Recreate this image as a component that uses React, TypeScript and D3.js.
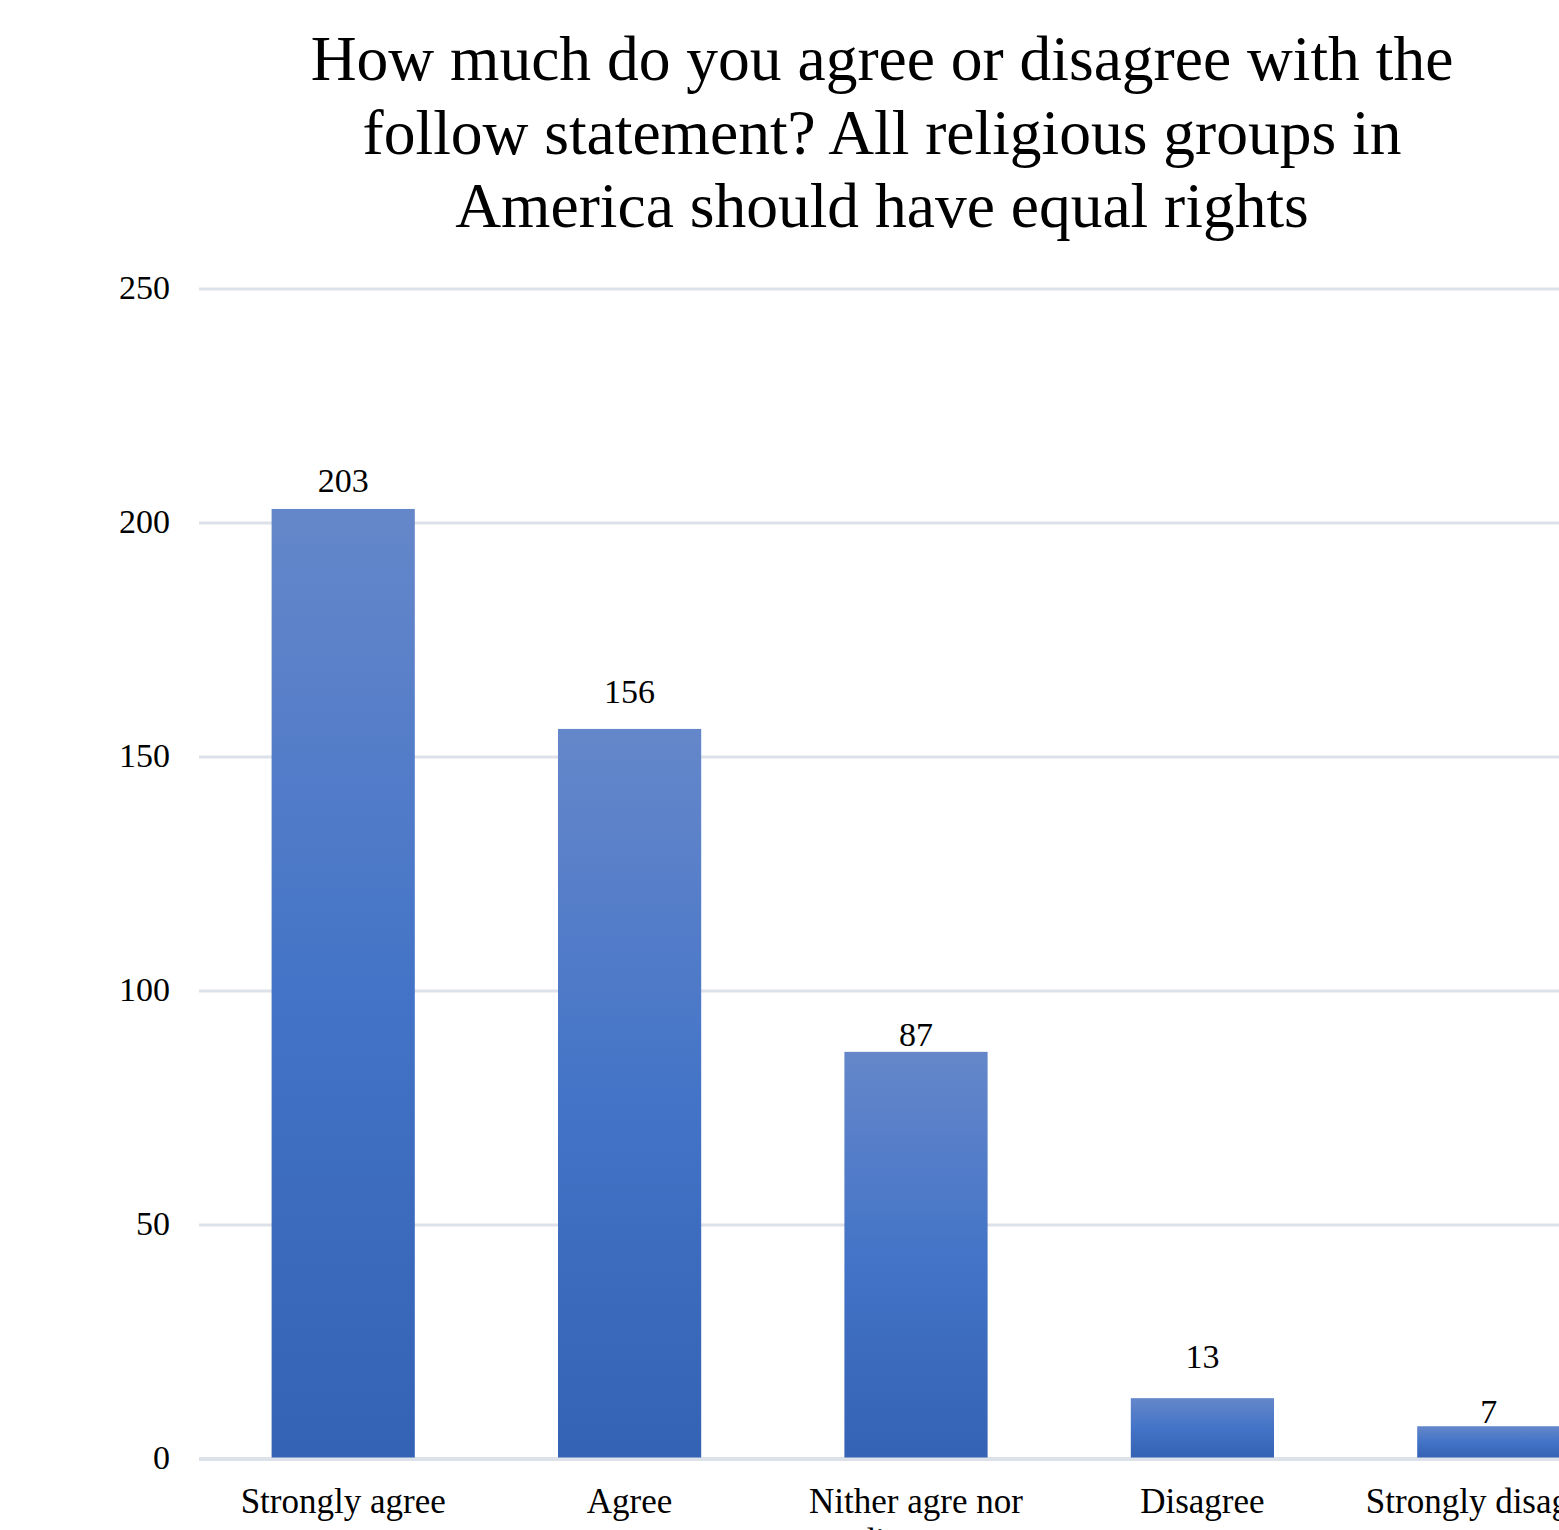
import React from "react";
import * as d3 from "d3";

const categories = ["Strongly agree", "Agree", "Nither agre nor disagree", "Disagree", "Strongly disagree"];
const categoryLines = [["Strongly agree"], ["Agree"], ["Nither agre nor", "disagree"], ["Disagree"], ["Strongly disagree"]];
const values = [203, 156, 87, 13, 7];
const yTicks = [0, 50, 100, 150, 200, 250];
const titleLines = [
  "How much do you agree or disagree with the",
  "follow statement? All religious groups in",
  "America should have equal rights",
];

const W = 1559;
const H = 1530;
const FONT = "'Liberation Serif', 'Times New Roman', serif";
// vertical gap between each value label baseline and its bar top, as placed in the source chart
const labelGaps = [17, 26, 6, 30, 3];

export default function App() {
  const x = d3.scaleBand<string>().domain(categories).range([200, 1632]).paddingInner(0.5).paddingOuter(0.25);
  const y = d3.scaleLinear().domain([0, 250]).range([1459, 289]);

  return (
    <svg
      width={W}
      height={H}
      style={{ position: "absolute", left: 0, top: 0, background: "#fff" }}
      fontFamily={FONT}
    >
      <defs>
        <linearGradient id="barGrad" x1="0" y1="0" x2="0" y2="1">
          <stop offset="0" stopColor="#6587ca" />
          <stop offset="0.5" stopColor="#4474c7" />
          <stop offset="1" stopColor="#3462b5" />
        </linearGradient>
      </defs>
      <rect x={0} y={0} width={W} height={H} fill="#fff" />
      {titleLines.map((t, i) => (
        <text key={i} x={882} y={80 + i * 73.5} textAnchor="middle" fontSize={63.5} fill="#000">
          {t}
        </text>
      ))}
      {yTicks.map((t) => (
        <g key={t}>
          <line x1={199} x2={W + 10} y1={y(t)} y2={y(t)} stroke="#dde1e9" strokeWidth={t === 0 ? 4 : 3} />
          <text x={170} y={y(t) + 10} textAnchor="end" fontSize={34} fill="#000">
            {t}
          </text>
        </g>
      ))}
      {categories.map((c, i) => {
        const bx = x(c)!;
        const by = y(values[i]);
        return (
          <g key={c}>
            <rect x={bx} y={by} width={x.bandwidth()} height={y(0) - by - 1.5} fill="url(#barGrad)" />
            <text x={bx + x.bandwidth() / 2} y={by - labelGaps[i]} textAnchor="middle" fontSize={34} fill="#000">
              {values[i]}
            </text>
            {categoryLines[i].map((l, j) => (
              <text
                key={j}
                x={bx + x.bandwidth() / 2}
                y={1513 + j * 40}
                textAnchor="middle"
                fontSize={35}
                fill="#000"
              >
                {l}
              </text>
            ))}
          </g>
        );
      })}
    </svg>
  );
}
